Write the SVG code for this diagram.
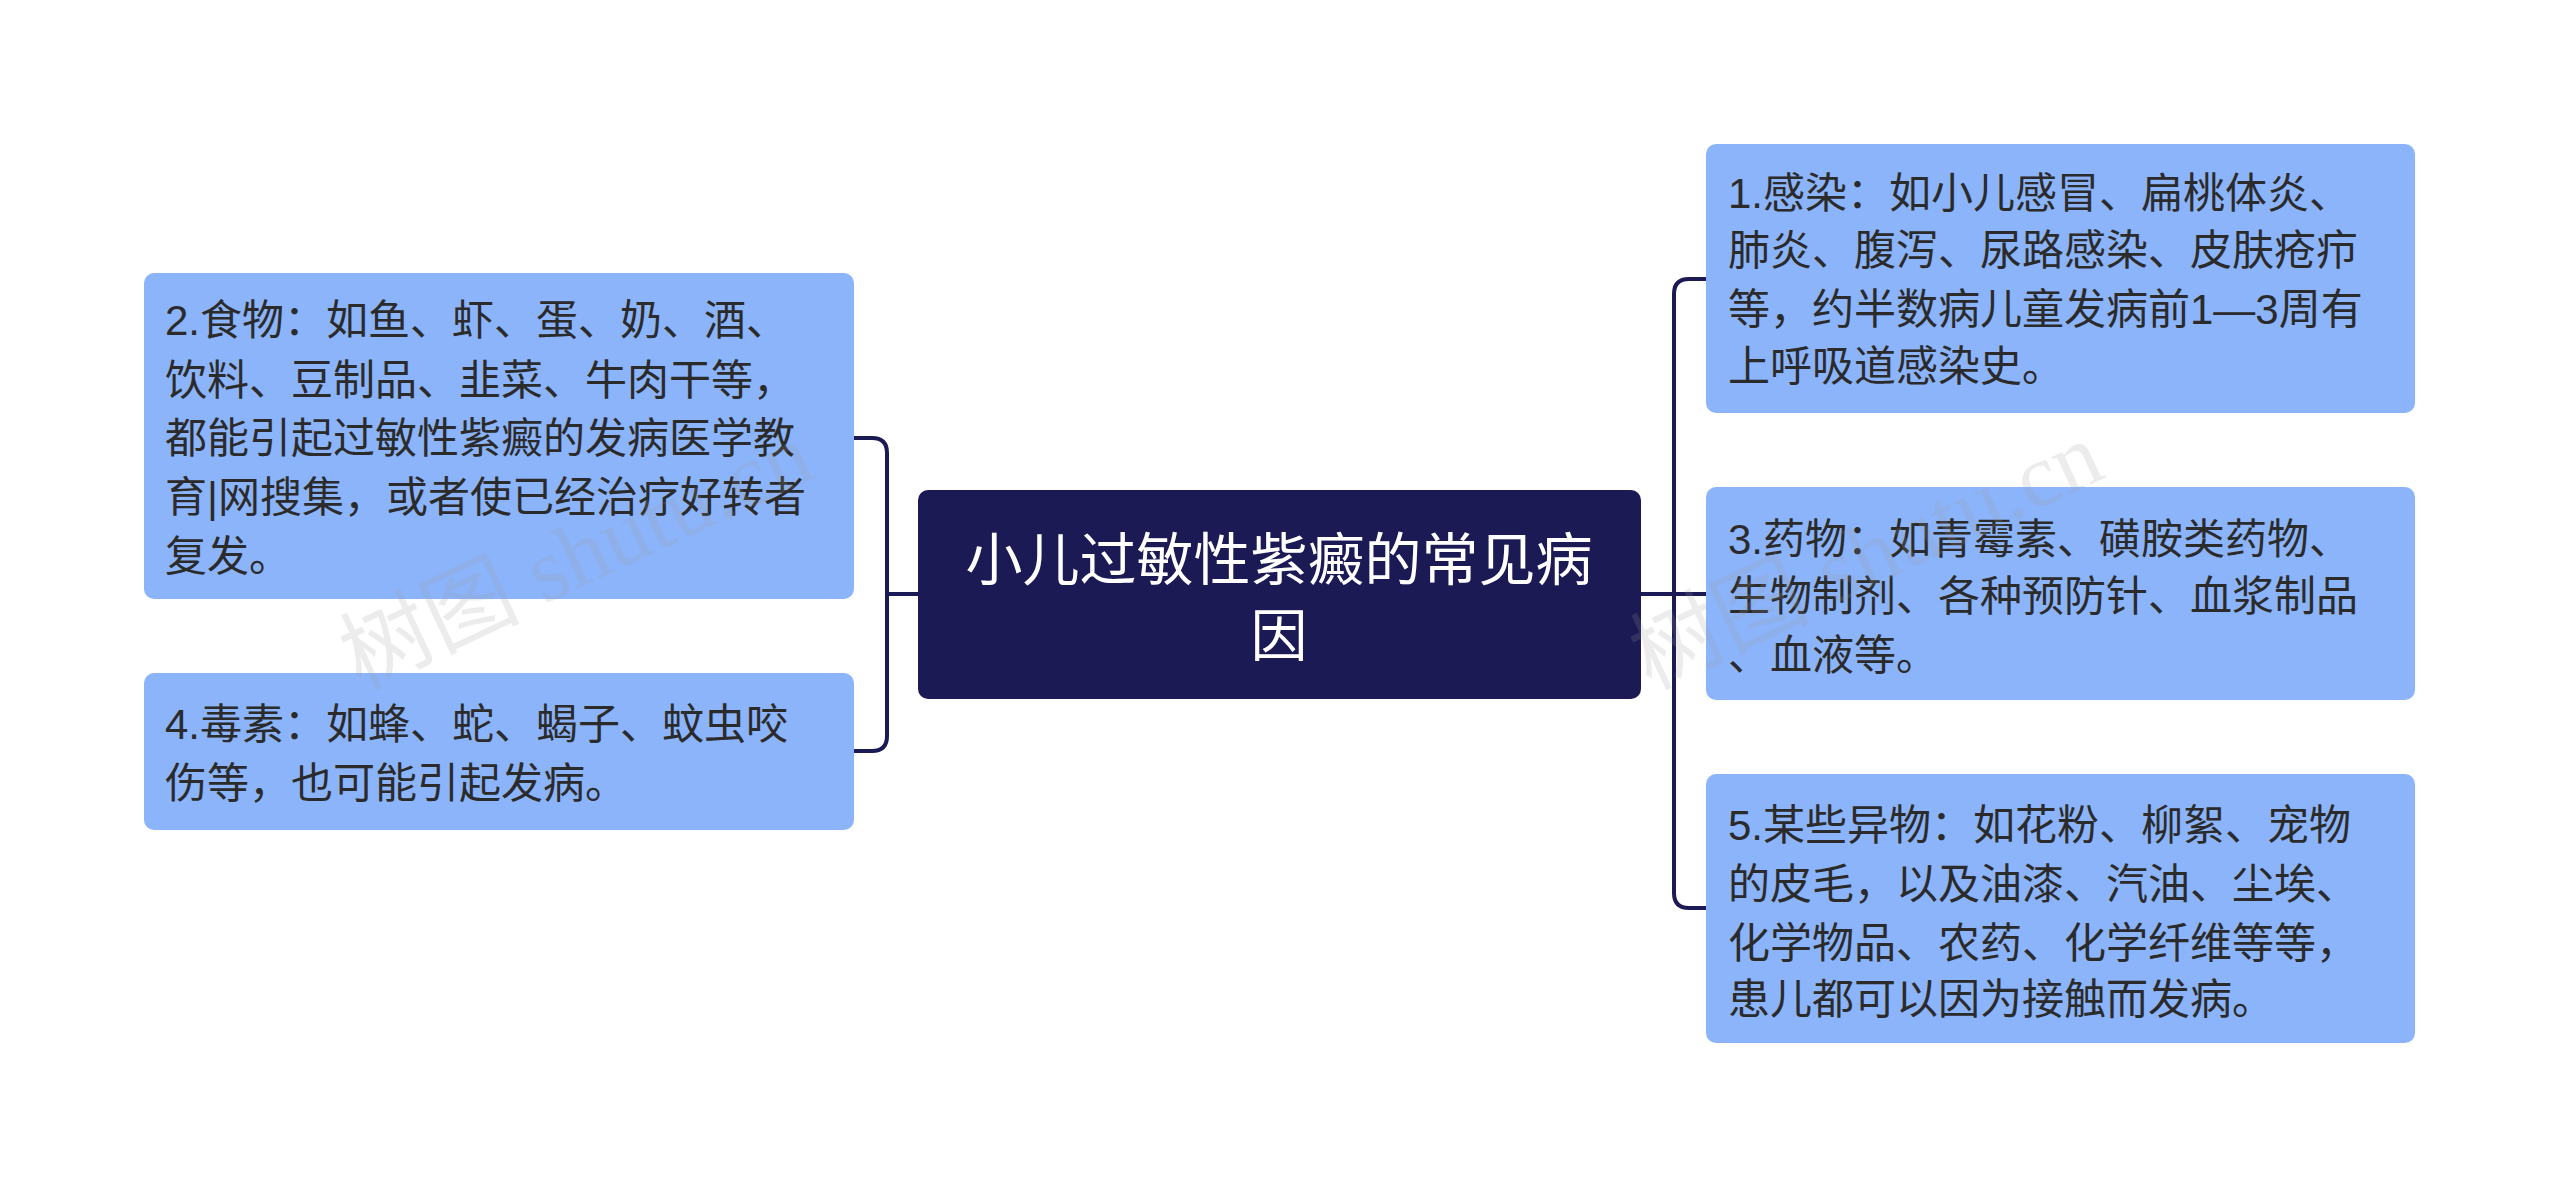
<svg xmlns="http://www.w3.org/2000/svg" width="2560" height="1189" viewBox="0 0 2560 1189">
<style>
.n{fill:#8cb4fa;}
.t{font-family:"Liberation Sans","Noto Sans CJK SC",sans-serif;font-size:42px;fill:#2b2b2b;}
.c{font-family:"Liberation Sans","Noto Sans CJK SC",sans-serif;font-size:57px;fill:#ffffff;}
.l{fill:none;stroke:#1c1a55;stroke-width:4;}
.w{font-family:"Liberation Serif","Noto Sans CJK SC",serif;font-size:90px;fill:#999;opacity:0.18;}
</style>
<rect width="2560" height="1189" fill="#ffffff"/>
<g id="connectors">
<path class="l" d="M918 594 H887 M854 438 H872 Q887 438 887 453 V736 Q887 751 872 751 H854"/>
<path class="l" d="M1641 594 H1706 M1706 279 H1689 Q1674 279 1674 294 V893 Q1674 908 1689 908 H1706"/>
</g>
<g id="center">
<rect x="918" y="490" width="723" height="209" rx="10" fill="#1c1a55"/>
<text class="c" x="1279" y="580" text-anchor="middle">小儿过敏性紫癜的常见病</text>
<text class="c" x="1279" y="656" text-anchor="middle">因</text>
</g>
<g id="n2">
<rect class="n" x="144" y="273" width="710" height="326" rx="10"/>
<text class="t" x="165" y="335">2.食物：如鱼、虾、蛋、奶、酒、</text>
<text class="t" x="165" y="395">饮料、豆制品、韭菜、牛肉干等，</text>
<text class="t" x="165" y="453">都能引起过敏性紫癜的发病医学教</text>
<text class="t" x="165" y="512">育|网搜集，或者使已经治疗好转者</text>
<text class="t" x="165" y="571">复发。</text>
</g>
<g id="n4">
<rect class="n" x="144" y="673" width="710" height="157" rx="10"/>
<text class="t" x="165" y="739">4.毒素：如蜂、蛇、蝎子、蚊虫咬</text>
<text class="t" x="165" y="798">伤等，也可能引起发病。</text>
</g>
<g id="n1">
<rect class="n" x="1706" y="144" width="709" height="269" rx="10"/>
<text class="t" x="1728" y="208">1.感染：如小儿感冒、扁桃体炎、</text>
<text class="t" x="1728" y="265">肺炎、腹泻、尿路感染、皮肤疮疖</text>
<text class="t" x="1728" y="324">等，约半数病儿童发病前1—3周有</text>
<text class="t" x="1728" y="381">上呼吸道感染史。</text>
</g>
<g id="n3">
<rect class="n" x="1706" y="487" width="709" height="213" rx="10"/>
<text class="t" x="1728" y="554">3.药物：如青霉素、磺胺类药物、</text>
<text class="t" x="1728" y="611">生物制剂、各种预防针、血浆制品</text>
<text class="t" x="1728" y="670">、血液等。</text>
</g>
<g id="n5">
<rect class="n" x="1706" y="774" width="709" height="269" rx="10"/>
<text class="t" x="1728" y="840">5.某些异物：如花粉、柳絮、宠物</text>
<text class="t" x="1728" y="899">的皮毛，以及油漆、汽油、尘埃、</text>
<text class="t" x="1728" y="958">化学物品、农药、化学纤维等等，</text>
<text class="t" x="1728" y="1014">患儿都可以因为接触而发病。</text>
</g>
<g id="watermark">
<text class="w" transform="translate(360 690) rotate(-25)">树图 shutu.cn</text>
<text class="w" transform="translate(1650 690) rotate(-25)">树图 shutu.cn</text>
</g>
</svg>
